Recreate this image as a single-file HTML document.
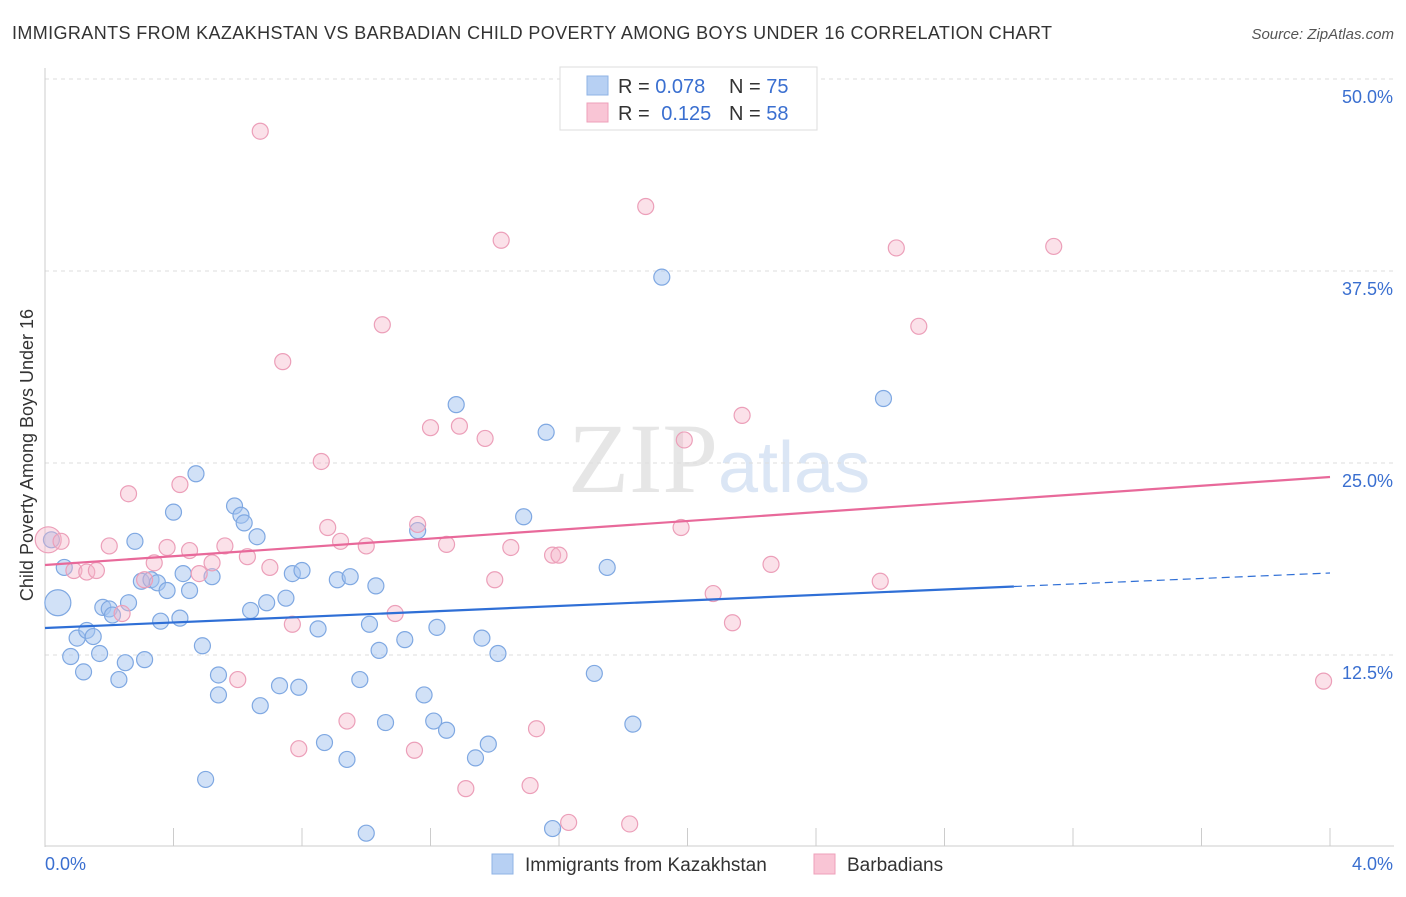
<!DOCTYPE html>
<html><head><meta charset="utf-8"><style>
body{margin:0;background:#fff;font-family:"Liberation Sans",sans-serif;}
</style></head><body>
<svg id="chart" width="1406" height="892" xmlns="http://www.w3.org/2000/svg">
<text x="12" y="39" font-size="18" fill="#333" textLength="1040">IMMIGRANTS FROM KAZAKHSTAN VS BARBADIAN CHILD POVERTY AMONG BOYS UNDER 16 CORRELATION CHART</text>
<text x="1394" y="39" font-size="15" fill="#555" font-style="italic" text-anchor="end">Source: ZipAtlas.com</text>
<text x="718" y="492" font-size="100" fill="#e6e6e6" text-anchor="end" font-family="Liberation Serif">ZIP</text>
<text x="718" y="492" font-size="72" fill="#dbe6f5">atlas</text>
<g id="grid"></g><g id="axes"></g><g id="pts"></g><g id="lines"></g>
<text x="33" y="455" font-size="18" fill="#333" text-anchor="middle" transform="rotate(-90 33 455)">Child Poverty Among Boys Under 16</text>
<g>
<rect x="560" y="67" width="257" height="63" fill="#fff" stroke="#ddd"/>
<rect x="587" y="76" width="21" height="19" fill="#b7d0f3" stroke="#8fb3e6"/>
<rect x="587" y="103" width="21" height="19" fill="#f9c5d5" stroke="#eea0ba"/>
<text x="618" y="93" font-size="20" fill="#333">R = <tspan fill="#3a6fd0">0.078</tspan></text>
<text x="729" y="93" font-size="20" fill="#333">N = <tspan fill="#3a6fd0">75</tspan></text>
<text x="618" y="120" font-size="20" fill="#333">R = <tspan fill="#3a6fd0" dx="6">0.125</tspan></text>
<text x="729" y="120" font-size="20" fill="#333">N = <tspan fill="#3a6fd0">58</tspan></text>
</g>
<g>
<rect x="492" y="854" width="21" height="20" fill="#b7d0f3" stroke="#8fb3e6"/>
<text x="525" y="871" font-size="19" fill="#333">Immigrants from Kazakhstan</text>
<rect x="814" y="854" width="21" height="20" fill="#f9c5d5" stroke="#eea0ba"/>
<text x="847" y="871" font-size="19" fill="#333">Barbadians</text>
</g>
</svg>
<script>
const blueX=[0.02,0.04,0.06,0.08,0.10,0.12,0.13,0.15,0.17,0.18,0.20,0.21,0.23,0.25,0.26,0.28,0.30,0.31,0.33,0.35,0.36,0.38,0.40,0.42,0.43,0.45,0.47,0.49,0.50,0.52,0.54,0.54,0.59,0.61,0.62,0.64,0.66,0.67,0.69,0.73,0.75,0.77,0.79,0.80,0.85,0.87,0.91,0.94,0.95,0.98,1.00,1.01,1.03,1.04,1.06,1.12,1.16,1.18,1.21,1.22,1.25,1.28,1.34,1.36,1.38,1.41,1.49,1.56,1.58,1.71,1.75,1.83,1.92,2.61];
const blueY=[20.0,15.9,18.2,12.4,13.6,11.4,14.1,13.7,12.6,15.6,15.5,15.1,10.9,12.0,15.9,19.9,17.3,12.2,17.4,17.2,14.7,16.7,21.8,14.9,17.8,16.7,24.3,13.1,4.4,17.6,11.2,9.9,22.2,21.6,21.1,15.4,20.2,9.2,15.9,10.5,16.2,17.8,10.4,18.0,14.2,6.8,17.4,5.7,17.6,10.9,0.9,14.5,17.0,12.8,8.1,13.5,20.6,9.9,8.2,14.3,7.6,28.8,5.8,13.6,6.7,12.6,21.5,27.0,1.2,11.3,18.2,8.0,37.1,29.2];
const pinkX=[0.01,0.05,0.09,0.13,0.16,0.20,0.24,0.26,0.31,0.34,0.38,0.42,0.45,0.48,0.52,0.56,0.60,0.63,0.67,0.70,0.74,0.77,0.79,0.86,0.88,0.92,0.94,1.00,1.05,1.09,1.15,1.16,1.20,1.25,1.29,1.31,1.37,1.40,1.42,1.45,1.51,1.53,1.58,1.60,1.63,1.82,1.87,1.98,1.99,2.08,2.14,2.17,2.26,2.60,2.65,2.72,3.14,3.98];
const pinkY=[20.0,19.9,18.0,17.9,18.0,19.6,15.2,23.0,17.4,18.5,19.5,23.6,19.3,17.8,18.5,19.6,10.9,18.9,46.6,18.2,31.6,14.5,6.4,25.1,20.8,19.9,8.2,19.6,34.0,15.2,6.3,21.0,27.3,19.7,27.4,3.8,26.6,17.4,39.5,19.5,4.0,7.7,19.0,19.0,1.6,1.5,41.7,20.8,26.5,16.5,14.6,28.1,18.4,17.3,39.0,33.9,39.1,10.8];
const yTicks=[12.5,25.0,37.5,50.0];
const xTickLabels=["0.0%","4.0%"];
const blueTrend=[14.26,17.84];
const pinkTrend=[18.36,24.09];
const NS="http://www.w3.org/2000/svg";
const sx=v=>45+v*321.25, sy=v=>847-v*15.36;
function mk(t,a,p){const e=document.createElementNS(NS,t);for(const k in a)e.setAttribute(k,a[k]);p.appendChild(e);return e;}
const grid=document.getElementById('grid'),axes=document.getElementById('axes'),pts=document.getElementById('pts'),lines=document.getElementById('lines');
yTicks.forEach(v=>{
 const l=mk('line',{x1:45,x2:1394,y1:sy(v),y2:sy(v),stroke:'#ddd','stroke-dasharray':'4,4'},grid);
 
 
 const t=mk('text',{x:1393,y:sy(v)+24,'font-size':18,fill:'#3a6fd0','text-anchor':'end'},axes);
 t.textContent=v.toFixed(1)+'%';
 
 
});
mk('line',{x1:45,x2:45,y1:68,y2:847,stroke:'#ccc'},axes);
mk('line',{x1:45,x2:1394,y1:846,y2:846,stroke:'#ccc'},axes);
for(let i=0;i<=10;i++){mk('line',{x1:sx(i*0.4),x2:sx(i*0.4),y1:828,y2:846,stroke:'#ccc'},axes);}
[[0,45,'start'],[4,1393,'end']].forEach((d,i)=>{const t=mk('text',{x:d[1],y:870,'font-size':18,fill:'#3a6fd0','text-anchor':d[2]},axes);t.textContent=xTickLabels[i];
 
 });
function dots(X,Y,fill,stroke,name,bigIdx){X.forEach((x,i)=>{const r=i===bigIdx?13:8;const c=mk('circle',{cx:sx(x),cy:sy(Y[i]),r:r,fill:fill,stroke:stroke,'stroke-width':1.2},pts);
 
 });}
dots(blueX,blueY,'rgba(164,196,240,0.5)','#7fa8e2','kazakhstan-point',1);
dots(pinkX,pinkY,'rgba(245,180,200,0.4)','#ec9fb9','barbadian-point',0);
const bx=3.016;
let l=mk('line',{x1:sx(0),y1:sy(blueTrend[0]),x2:sx(bx),y2:sy(blueTrend[0]+(blueTrend[1]-blueTrend[0])*bx/4),stroke:'#2f6fd6','stroke-width':2.2},lines);


l=mk('line',{x1:sx(bx),y1:sy(blueTrend[0]+(blueTrend[1]-blueTrend[0])*bx/4),x2:sx(4),y2:sy(blueTrend[1]),stroke:'#2f6fd6','stroke-width':1.2,'stroke-dasharray':'8,5'},lines);


l=mk('line',{x1:sx(0),y1:sy(pinkTrend[0]),x2:sx(4),y2:sy(pinkTrend[1]),stroke:'#e8699a','stroke-width':2.2},lines);


</script>
</body></html>
